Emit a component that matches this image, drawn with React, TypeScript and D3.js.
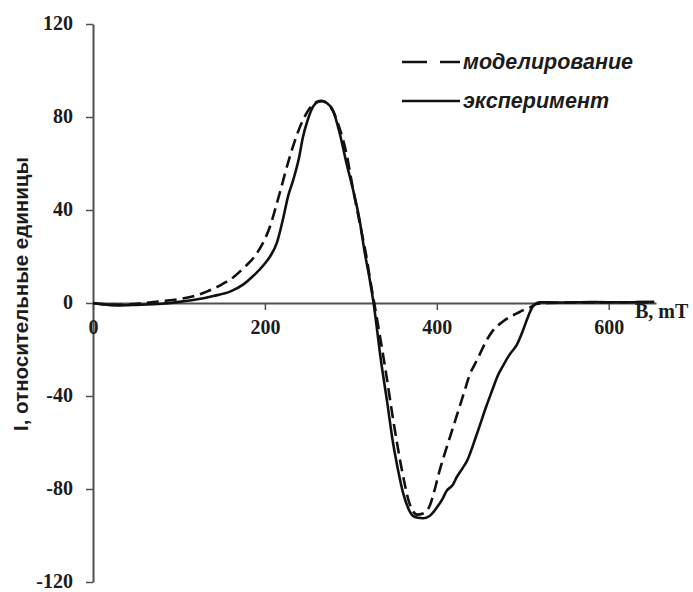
import React, { useEffect, useRef } from 'react';
import * as d3 from 'd3';

// experiment (solid)
const B_EXP = [0, 10, 30, 50, 80, 100, 120, 140, 160, 175, 186, 200, 206, 214, 221, 227, 233, 240, 244, 250, 256, 262, 267, 272, 279, 287, 295, 303, 310, 316, 322, 326, 330, 334, 342, 349, 355, 361, 367, 372, 378, 384, 392, 400, 407, 411, 419, 423, 430, 435, 446, 458, 465, 470, 477, 485, 493, 500, 505, 512, 520, 540, 580, 620, 653];
const I_EXP = [0, -0.5, -1, -0.8, -0.3, 0.5, 1.5, 3, 5, 8, 11.5, 17, 20, 26, 36, 46, 53, 63, 71, 79, 84.5, 86.5, 86.8, 86, 83, 73, 60, 48, 36, 22, 10, 1, -10, -22, -42, -60, -72, -82, -88.5, -91.5, -92.4, -92.6, -91.5, -88, -84, -81, -78, -75, -71, -68, -57, -44, -37, -32, -27, -22, -18, -12, -7, -1.3, 0.3, 0.2, 0.4, 0.3, 0.5];

// model (dashed)
const B_MOD = [0, 10, 30, 60, 80, 101, 120, 133, 150, 163, 175, 188, 206, 217, 229, 240, 249, 256, 260, 266, 272, 280, 287, 295, 302, 310, 319, 322, 330, 340, 350, 360, 368, 377, 384, 392, 397, 403, 409, 415, 421, 427, 433, 438, 444, 450, 458, 465, 475, 485, 493, 500, 508, 516, 530, 560, 600, 653];
const I_MOD = [0, -0.5, -0.8, 0, 0.8, 1.7, 3.2, 5, 8, 11, 15, 20, 33, 47, 63, 75, 82, 85.5, 86.5, 87, 86, 82, 75, 64, 50, 35, 18, 11, -6, -28, -52, -73, -86, -91, -90.5, -87, -81, -72.4, -65, -58, -51, -44, -37, -31, -26.5, -22, -16, -12, -8.5, -6, -4.5, -3.2, -2, -0.4, 0, 0.2, 0.3, 0.4];

const X_TICKS = [0, 200, 400, 600];
const Y_TICKS = [-120, -80, -40, 0, 40, 80, 120];
const SERIES_NAMES = ['моделирование', 'эксперимент'];

const App = () => {
    const ref = useRef<SVGSVGElement>(null);

    useEffect(() => {
        const svg = d3.select(ref.current);
        svg.selectAll('*').remove();

        const x = d3.scaleLinear().domain([0, 655]).range([93, 656]);
        const y = d3.scaleLinear().domain([-120, 120]).range([582, 24]);

        const axisColor = '#505050';
        const tickFont = '"Liberation Serif", "Times New Roman", serif';
        const fmt = (d: d3.NumberValue) => String(d);

        // y axis
        const gy = svg.append('g')
            .attr('transform', `translate(${x(0)},0)`)
            .call(d3.axisLeft(y).tickValues(Y_TICKS).tickFormat(fmt).tickSize(7).tickSizeOuter(0).tickPadding(13));
        // x axis at I = 0
        const gx = svg.append('g')
            .attr('transform', `translate(0,${y(0)})`)
            .call(d3.axisBottom(x).tickValues(X_TICKS).tickFormat(fmt).tickSize(7).tickSizeOuter(0).tickPadding(10));

        [gx, gy].forEach(g => {
            g.select('.domain').attr('stroke', axisColor).attr('stroke-width', 2);
            g.selectAll('.tick line').attr('stroke', axisColor).attr('stroke-width', 1.5);
            g.selectAll('.tick text')
                .attr('fill', '#1c1c1c')
                .style('font-family', tickFont)
                .style('font-weight', 'bold')
                .style('font-size', '20px');
        });
        gy.selectAll('.tick text').attr('dy', '0.27em');

        svg.append('text')
            .attr('x', 635)
            .attr('y', 318)
            .attr('fill', '#1c1c1c')
            .style('font-family', tickFont)
            .style('font-weight', 'bold')
            .style('font-size', '20px')
            .text('B, mT');

        svg.append('text')
            .attr('transform', 'translate(28,294) rotate(-90)')
            .attr('text-anchor', 'middle')
            .attr('fill', '#1c1c1c')
            .style('font-family', '"Liberation Sans", Arial, sans-serif')
            .style('font-weight', 'bold')
            .style('font-size', '20.5px')
            .text('I, относительные единицы');

        const line = d3.line<[number, number]>()
            .x(d => x(d[0]))
            .y(d => y(d[1]))
            .curve(d3.curveMonotoneX);

        const modPts = B_MOD.map((b, i) => [b, I_MOD[i]] as [number, number]);
        const expPts = B_EXP.map((b, i) => [b, I_EXP[i]] as [number, number]);

        svg.append('path')
            .attr('d', line(expPts))
            .attr('fill', 'none')
            .attr('stroke', '#111')
            .attr('stroke-width', 2.6);

        svg.append('path')
            .attr('d', line(modPts))
            .attr('fill', 'none')
            .attr('stroke', '#111')
            .attr('stroke-width', 2.6)
            .attr('stroke-dasharray', '12,6');

        // legend
        const legend = svg.append('g');
        SERIES_NAMES.forEach((name, i) => {
            const ly = 62 + i * 39;
            legend.append('line')
                .attr('x1', 402).attr('x2', 460)
                .attr('y1', ly).attr('y2', ly)
                .attr('stroke', '#111')
                .attr('stroke-width', 2.6)
                .attr('stroke-dasharray', i === 0 ? '25,13' : null);
            legend.append('text')
                .attr('x', 463)
                .attr('y', ly + 7)
                .attr('fill', '#1c1c1c')
                .style('font-family', '"Liberation Sans", Arial, sans-serif')
                .style('font-weight', 'bold')
                .style('font-style', 'italic')
                .style('font-size', '21.5px')
                .text(name);
        });
    }, []);

    return (
        <svg ref={ref} width={693} height={592}
            style={{ position: 'absolute', left: 0, top: 0, background: '#fff' }}></svg>
    );
};

export default App;
